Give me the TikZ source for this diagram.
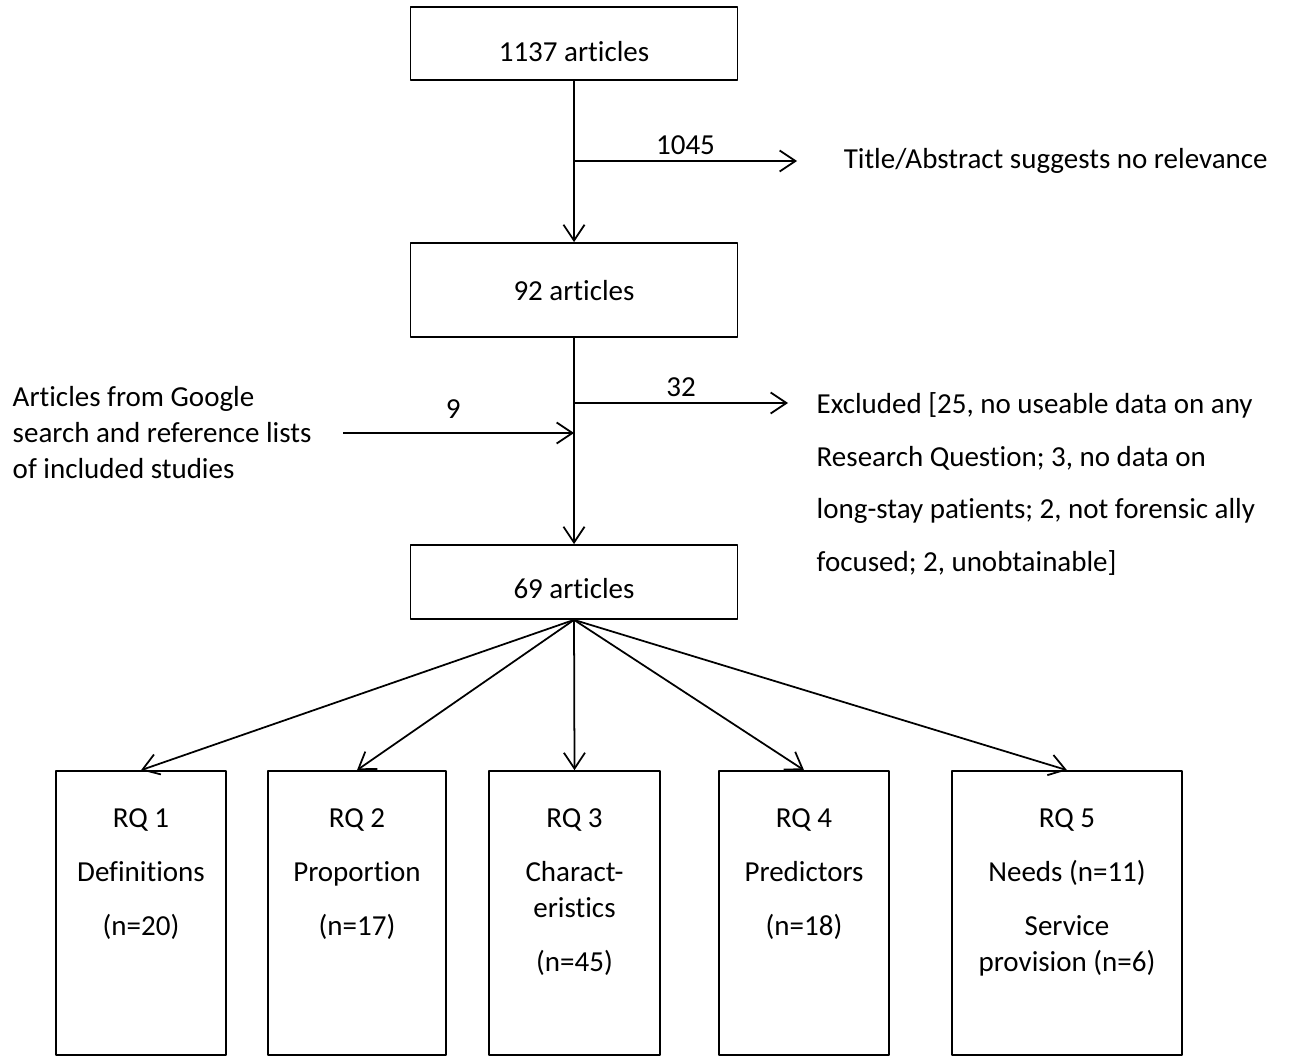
\documentclass[tikz,border=0pt]{standalone}
\usepackage{fontspec}
\setmainfont[Ligatures=NoCommon]{Carlito}
\usetikzlibrary{arrows.meta,positioning}
\begin{document}
\begin{tikzpicture}[x=0.02cm, y=-0.02cm, font=\fontsize{16.5}{20.5}\selectfont, line width=1pt, line join=round,
		>={Straight Barb[length=9pt,width=12pt]},
		box/.style={draw, inner sep=0pt, minimum width=6.54cm, text depth=0pt},
		rqbox/.style={draw, minimum height=5.68cm},
		rqtext/.style={anchor=north, align=center, inner sep=0pt},
		num/.style={above, inner sep=3pt}]
	\useasboundingbox (0,0) rectangle (1290,1057);
	% main chain
	\node[box, minimum height=1.46cm, text height=21pt] (a1137) at (574,43.5) {1137 articles};
	\node[box, minimum height=1.88cm] (a92) at (574,290) {92 articles};
	\node[box, minimum height=1.48cm, text height=19pt] (a69) at (574,582) {69 articles};
	\draw[->] (a1137) -- (a92);
	\draw[->] (a92) -- (a69);
	% exclusions
	\coordinate (x1) at (574,161);
	\coordinate (x1e) at (797,161);
	\draw[->] (x1) -- node[num] {1045} (x1e);
	\node[anchor=west] (t1) at (837,161) {Title/Abstract suggests no relevance};
	\coordinate (x2) at (574,403);
	\coordinate (x2e) at (788,403);
	\draw[->] (x2) -- node[num] {32} (x2e);
	\node[anchor=west, align=left, font=\fontsize{16.5}{30}\selectfont] (t2) at (810,484)
		{Excluded [25, no useable data on any\\Research Question; 3, no data on\\long-stay patients; 2, not forensic ally\\focused; 2, unobtainable]};
	% additional articles
	\node[anchor=west, align=left] (src) at (6,433) {Articles from Google\\search and reference lists\\of included studies};
	\coordinate (x3s) at (343,433);
	\coordinate (x3) at (574,433);
	\draw[->] (x3s) -- node[num, yshift=5pt, xshift=-3pt] {9} (x3);
	% research questions
	\foreach \n/\x/\w/\txt in {1/141/3.40/{RQ 1\\[10pt]Definitions\\[10pt](n=20)},
			2/357/3.56/{RQ 2\\[10pt]Proportion\\[10pt](n=17)},
			3/574.5/3.42/{RQ 3\\[10pt]Charact-\\eristics\\[10pt](n=45)},
			4/804/3.40/{RQ 4\\[10pt]Predictors\\[10pt](n=18)},
			5/1067/4.60/{RQ 5\\[10pt]Needs (n=11)\\[10pt]Service\\provision (n=6)}} {
		\node[rqbox, minimum width=\w cm] (rq\n) at (\x,913) {};
		\node[rqtext, below=0.76cm of rq\n.north] (rqt\n) {\txt};
		\draw[->] (a69.south) -- (rq\n.north);
	}
\end{tikzpicture}
\end{document}
